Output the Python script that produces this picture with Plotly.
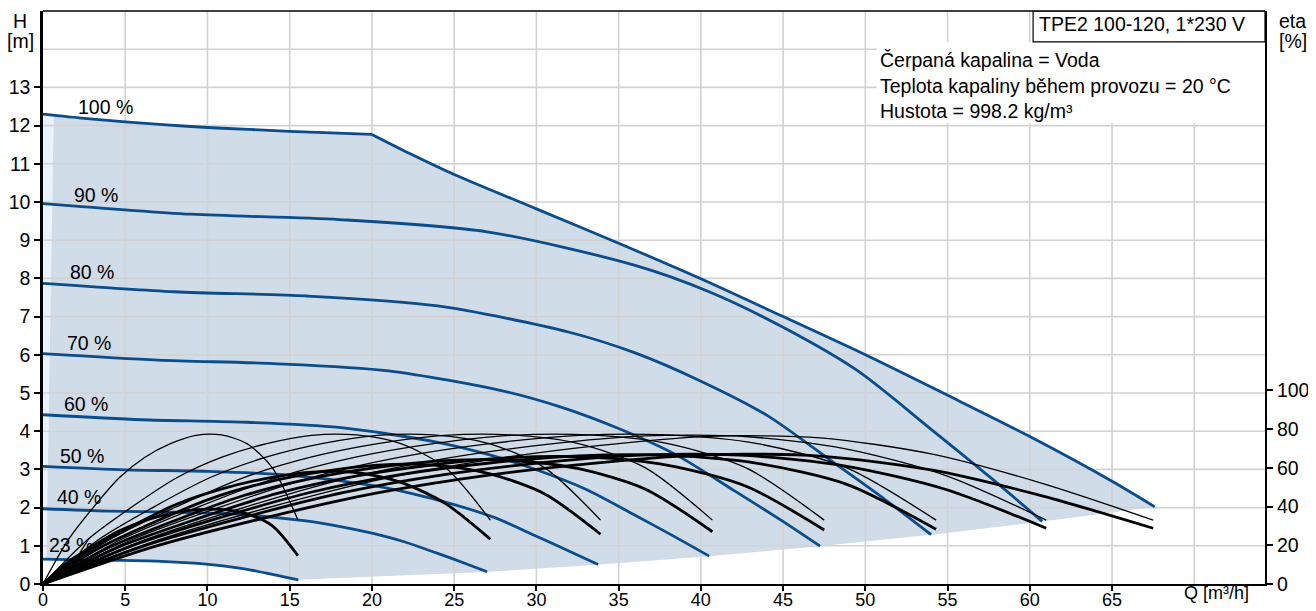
import plotly.graph_objects as go

# ---------------- data ----------------
# Speed curves: head H [m] versus flow Q [m3/h]
q_100 = [0, 2.5, 5, 7.5, 10, 12.5, 15, 17.5, 20, 22.3, 25, 30, 35, 40, 45, 50, 55, 60, 65, 67.6]
h_100 = [12.30, 12.19, 12.10, 12.02, 11.95, 11.90, 11.85, 11.81, 11.77, 11.27, 10.72, 9.82, 8.92, 7.99, 7.00, 6.00, 4.94, 3.86, 2.69, 2.02]
KINK = 8  # index of the 20 m3/h point where the power limit starts
q_90 = [0, 9, 18, 27, 36, 40.5, 45, 49.5, 54, 57.6, 60.75]
h_90 = [9.96, 9.68, 9.54, 9.22, 8.34, 7.65, 6.72, 5.59, 4.05, 2.79, 1.64]
q_80 = [0, 8, 16, 24, 32, 36, 40, 44, 48, 51.2, 54]
h_80 = [7.87, 7.65, 7.54, 7.28, 6.59, 6.05, 5.31, 4.42, 3.20, 2.21, 1.29]
q_70 = [0, 7, 14, 21, 28, 31.5, 35, 38.5, 42, 44.8, 47.25]
h_70 = [6.03, 5.86, 5.77, 5.58, 5.05, 4.63, 4.07, 3.38, 2.45, 1.69, 0.99]
q_60 = [0, 6, 12, 18, 24, 27, 30, 33, 36, 38.4, 40.5]
h_60 = [4.43, 4.30, 4.24, 4.10, 3.71, 3.40, 2.99, 2.48, 1.80, 1.24, 0.73]
q_50 = [0, 5, 10, 15, 20, 22.5, 25, 27.5, 30, 32, 33.75]
h_50 = [3.08, 2.99, 2.95, 2.85, 2.58, 2.36, 2.08, 1.73, 1.25, 0.86, 0.51]
q_40 = [0, 4, 8, 12, 16, 18, 20, 22, 24, 25.6, 27]
h_40 = [1.97, 1.91, 1.88, 1.82, 1.65, 1.51, 1.33, 1.10, 0.80, 0.55, 0.32]
q_23 = [0, 2.3, 4.6, 6.9, 9.2, 10.35, 11.5, 12.65, 13.8, 14.72, 15.53]
h_23 = [0.65, 0.63, 0.62, 0.60, 0.545, 0.50, 0.44, 0.365, 0.265, 0.18, 0.107]

speed_labels = ["100 %", "90 %", "80 %", "70 %", "60 %", "50 %", "40 %", "23 %"]
label_q = [3.8, 3.2, 3.0, 2.8, 2.6, 2.4, 2.2, 1.7]
label_h = [12.5, 10.18, 8.16, 6.3, 4.71, 3.36, 2.29, 1.02]

# Hydraulic efficiency (thin) and total efficiency (thick), eta [%] versus Q
eq_23 = [0, 1.55, 3.1, 4.65, 6.2, 7.75, 9.3, 10.85, 12.4, 13.95, 15.5]
eq_40 = [0, 2.72, 5.44, 8.16, 10.88, 13.6, 16.32, 19.04, 21.76, 24.48, 27.2]
eq_50 = [0, 3.39, 6.78, 10.17, 13.56, 16.95, 20.34, 23.73, 27.12, 30.51, 33.9]
eq_60 = [0, 4.07, 8.14, 12.21, 16.28, 20.35, 24.42, 28.49, 32.56, 36.63, 40.7]
eq_70 = [0, 4.75, 9.5, 14.25, 19.0, 23.75, 28.5, 33.25, 38.0, 42.75, 47.5]
eq_80 = [0, 5.43, 10.86, 16.29, 21.72, 27.15, 32.58, 38.01, 43.44, 48.87, 54.3]
eq_90 = [0, 6.1, 12.2, 18.3, 24.4, 30.5, 36.6, 42.7, 48.8, 54.9, 61.0]
eq_100 = [0, 6.75, 13.5, 20.25, 27.0, 33.75, 40.5, 47.25, 54.0, 60.75, 67.5]

thin_23 = [0, 23, 40, 55, 65.5, 72.5, 76.8, 77, 72.5, 60, 33]
thin_40 = [0, 23, 40, 55, 65.5, 72.5, 76.8, 77, 72.5, 60, 33]
thin_50 = [0, 23, 40, 55, 65.5, 72.5, 76.8, 77, 72.5, 60, 33]
thin_60 = [0, 23, 40, 55, 65.5, 72.5, 76.8, 77, 72.5, 60, 33]
thin_70 = [0, 23, 40, 55, 65.5, 72.5, 76.8, 77, 72.5, 60, 33]
thin_80 = [0, 23, 40, 55, 65.5, 72.5, 76.8, 77, 72.5, 60, 33]
thin_90 = [0, 22.5, 39.5, 54.2, 64.8, 72, 76.5, 76.2, 69.8, 56, 33]
thin_100 = [0, 22, 39, 53.5, 64, 71.5, 76.3, 75.5, 67.2, 52, 33]

thick_23 = [0, 11.5, 20, 27.5, 32.8, 36.3, 38.4, 38.5, 36.2, 30, 14.6]
thick_40 = [0, 17, 30, 41.3, 49.1, 54.6, 57.8, 57.6, 52.5, 41.5, 23.1]
thick_50 = [0, 18.4, 32, 44, 52.4, 58, 61.4, 61.4, 57, 46.5, 25.7]
thick_60 = [0, 19.1, 33.2, 45.7, 54.4, 60.2, 63.7, 63.8, 59.6, 49, 27.0]
thick_70 = [0, 19.6, 34, 46.8, 55.7, 61.6, 65.3, 65.5, 61.3, 50.5, 27.9]
thick_80 = [0, 19.8, 34.5, 47.4, 56.5, 62.5, 66.2, 66.4, 62.3, 51.5, 28.3]
thick_90 = [0, 19.6, 34.4, 47.3, 56.5, 62.8, 66.7, 66.4, 60.9, 48.8, 28.8]
thick_100 = [0, 19.3, 34.2, 46.9, 56.1, 62.6, 66.8, 66.1, 58.9, 45.5, 28.8]

# Operating range (shaded area) and min-flow strip
area_q = [0.65, 5, 10, 15, 20, 22.3, 25, 30, 35, 40, 45, 50, 55, 60, 65, 67.6,
          61.0, 54.3, 47.5, 40.7, 33.9, 27.2, 15.5, 13.8, 11.5, 9.2, 6.9, 4.6, 2.3, 0.2]
area_h = [12.27, 12.10, 11.95, 11.85, 11.77, 11.27, 10.72, 9.82, 8.92, 7.99, 7.00, 6.00, 4.94, 3.86, 2.69, 2.02,
          1.65, 1.30, 1.00, 0.73, 0.51, 0.32, 0.11, 0.265, 0.44, 0.545, 0.60, 0.62, 0.63, 0.65]
strip_q = [0, 0, 0.65, 0.2]
strip_h = [0.65, 12.30, 12.27, 0.65]

# Axes
q_ticks = [0, 5, 10, 15, 20, 25, 30, 35, 40, 45, 50, 55, 60, 65]
h_ticks = [0, 1, 2, 3, 4, 5, 6, 7, 8, 9, 10, 11, 12, 13]
eta_ticks = [0, 20, 40, 60, 80, 100]
grid_q = [5, 10, 15, 20, 25, 30, 35, 40, 45, 50, 55, 60, 65, 70]
grid_h = [1, 2, 3, 4, 5, 6, 7, 8, 9, 10, 11, 12, 13, 14]
Q_MAX, H_MAX, ETA_MAX = 74.3, 15.0, 296.0

title_text = "TPE2 100-120, 1*230 V"
info_lines = ["Čerpaná kapalina = Voda", "Teplota kapaliny během provozu = 20 °C", "Hustota = 998.2 kg/m³"]

# ---------------- figure ----------------
BLUE = "#0a4c8c"
FILL = "#d0dce8"
STRIP = "#eaf2fb"
GRID = "#d2d2d2"
FONT = "Liberation Sans, Arial, sans-serif"
FS = 19.5
FS_X = 18

fig = go.Figure()

fig.add_trace(go.Scatter(x=strip_q, y=strip_h, fill="toself", fillcolor=STRIP, mode="lines",
                         line=dict(width=0), hoverinfo="skip", showlegend=False))
fig.add_trace(go.Scatter(x=area_q, y=area_h, fill="toself", fillcolor=FILL, mode="lines",
                         line=dict(width=0), hoverinfo="skip", showlegend=False))

gx, gy = [], []
for q in grid_q:
    gx += [q, q, None]
    gy += [0, H_MAX, None]
for h in grid_h:
    gx += [0, Q_MAX, None]
    gy += [h, h, None]
fig.add_trace(go.Scatter(x=gx, y=gy, mode="lines", line=dict(color=GRID, width=1.6),
                         hoverinfo="skip", showlegend=False))

# 100 % curve: smooth part up to the power limit, then the power-limited part
fig.add_trace(go.Scatter(x=q_100[:KINK + 1], y=h_100[:KINK + 1], mode="lines",
                         line=dict(color=BLUE, width=2.8, shape="spline", smoothing=0.8),
                         showlegend=False))
fig.add_trace(go.Scatter(x=q_100[KINK:], y=h_100[KINK:], mode="lines",
                         line=dict(color=BLUE, width=2.8, shape="spline", smoothing=0.8),
                         showlegend=False))
for q, h in [(q_90, h_90), (q_80, h_80), (q_70, h_70), (q_60, h_60),
             (q_50, h_50), (q_40, h_40), (q_23, h_23)]:
    fig.add_trace(go.Scatter(x=q, y=h, mode="lines",
                             line=dict(color=BLUE, width=2.8, shape="spline", smoothing=0.8),
                             showlegend=False))

eff_q = [eq_23, eq_40, eq_50, eq_60, eq_70, eq_80, eq_90, eq_100]
thin_all = [thin_23, thin_40, thin_50, thin_60, thin_70, thin_80, thin_90, thin_100]
thick_all = [thick_23, thick_40, thick_50, thick_60, thick_70, thick_80, thick_90, thick_100]
for q, e in zip(eff_q, thin_all):
    fig.add_trace(go.Scatter(x=q, y=e, yaxis="y2", mode="lines",
                             line=dict(color="black", width=1.3, shape="spline", smoothing=0.8),
                             showlegend=False))
for q, e in zip(eff_q, thick_all):
    fig.add_trace(go.Scatter(x=q, y=e, yaxis="y2", mode="lines",
                             line=dict(color="black", width=2.8, shape="spline", smoothing=0.8),
                             showlegend=False))

annotations = []
for t, x, y in zip(speed_labels, label_q, label_h):
    annotations.append(dict(x=x, y=y, xref="x", yref="y", text=t, showarrow=False,
                            xanchor="center", yanchor="middle", font=dict(size=FS)))

annotations.append(dict(x=60.45, y=14.66, xref="x", yref="y", text=title_text, showarrow=False,
                        xanchor="left", yanchor="middle", font=dict(size=FS)))
for t, y in zip(info_lines, [13.72, 13.04, 12.37]):
    annotations.append(dict(x=50.75, y=y, xref="x", yref="y", text=t, showarrow=False,
                            xanchor="left", yanchor="middle", font=dict(size=FS)))

annotations += [
    dict(x=-0.0188, y=0.982, xref="paper", yref="paper", text="H", showarrow=False,
         xanchor="center", yanchor="middle", font=dict(size=FS)),
    dict(x=-0.0188, y=0.948, xref="paper", yref="paper", text="[m]", showarrow=False,
         xanchor="center", yanchor="middle", font=dict(size=FS)),
    dict(x=1.0095, y=0.983, xref="paper", yref="paper", text="eta", showarrow=False,
         xanchor="left", yanchor="middle", font=dict(size=FS)),
    dict(x=1.0095, y=0.948, xref="paper", yref="paper", text="[%]", showarrow=False,
         xanchor="left", yanchor="middle", font=dict(size=FS)),
    dict(x=0.932, y=-0.016, xref="paper", yref="paper", text="Q [m³/h]", showarrow=False,
         xanchor="left", yanchor="middle", font=dict(size=FS_X)),
]

shapes = [
    dict(type="rect", xref="x", yref="y", x0=50.7, x1=Q_MAX, y0=12.06, y1=14.19,
         fillcolor="white", line=dict(width=0), layer="above"),
    dict(type="rect", xref="x", yref="y", x0=60.2, x1=Q_MAX, y0=14.19, y1=H_MAX,
         fillcolor="white", line=dict(color="black", width=1.2), layer="above"),
    dict(type="line", xref="paper", yref="paper", x0=0, x1=1, y0=1, y1=1,
         line=dict(color="black", width=1.3), layer="above"),
]

axis_common = dict(showgrid=False, zeroline=False, showline=True, linecolor="black",
                   ticks="outside", tickcolor="black", tickwidth=1.5, automargin=False)

# The page body has an 8 px margin, so the figure is sized to fit the window exactly
fig.update_layout(
    width=1308, height=603,
    margin=dict(l=35, r=51, t=3, b=27, autoexpand=False),
    paper_bgcolor="white", plot_bgcolor="white",
    font=dict(family=FONT, size=FS, color="black"),
    showlegend=False,
    xaxis=dict(range=[0, Q_MAX], tickvals=q_ticks, ticklen=5, linewidth=2.2,
               ticklabelstandoff=-7, tickfont=dict(size=FS_X, color="black"), **axis_common),
    yaxis=dict(range=[0, H_MAX], tickvals=h_ticks, ticklen=6, linewidth=2.5,
               tickfont=dict(size=FS, color="black"), **axis_common),
    yaxis2=dict(range=[0, ETA_MAX], tickvals=eta_ticks, ticklen=6, linewidth=2, side="right",
                overlaying="y", anchor="x", tickfont=dict(size=FS, color="black"), **axis_common),
    annotations=annotations,
    shapes=shapes,
)

fig.write_html("out.html")
